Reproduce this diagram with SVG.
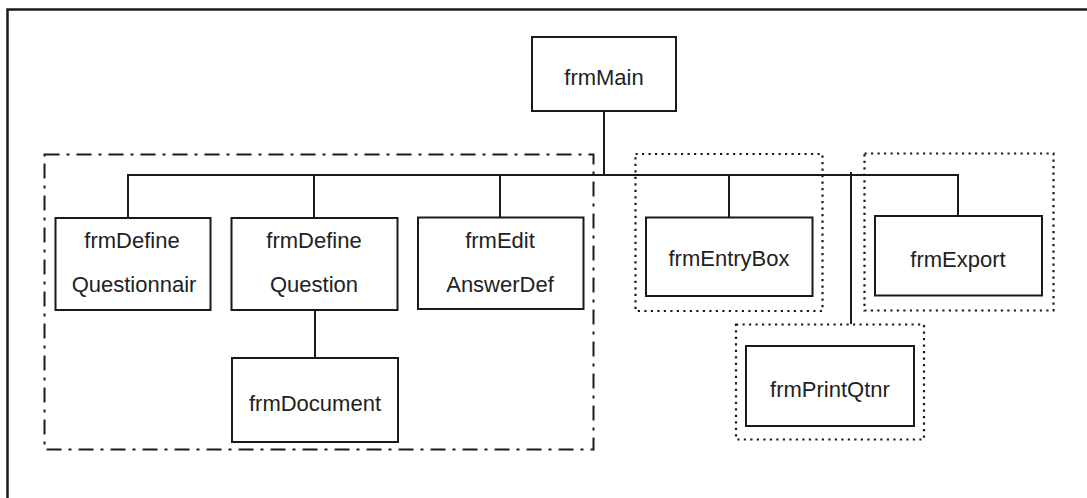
<svg xmlns="http://www.w3.org/2000/svg" width="1087" height="498" viewBox="0 0 1087 498">
<style>
.box{fill:#fff;stroke:#1a1a1a;stroke-width:2}
.lbl{font-family:"Liberation Sans",Arial,sans-serif;font-size:22px;fill:#222;text-anchor:middle}
.conn{fill:none;stroke:#1a1a1a;stroke-width:2}
.dashdot{fill:none;stroke:#1a1a1a;stroke-width:2;stroke-dasharray:15 7 3 7}
.dotted{fill:none;stroke:#1a1a1a;stroke-width:2.2;stroke-dasharray:2.2 4.3}
</style>
<rect width="1087" height="498" fill="#fff"/>
<path d="M7.5,498 V9.5 H1087" fill="none" stroke="#1a1a1a" stroke-width="2.5"/>
<g id="groups">
<rect class="dashdot" x="44.5" y="154.5" width="549" height="295"/>
<rect class="dotted" x="635.5" y="154" width="187" height="157"/>
<rect class="dotted" x="864.5" y="153.5" width="189" height="157"/>
<rect class="dotted" x="736" y="324.5" width="188" height="115"/>
</g>
<g id="connectors">
<path class="conn" d="M604,111 V175"/>
<path class="conn" d="M127,175 H959"/>
<path class="conn" d="M128,175 V218"/>
<path class="conn" d="M314,175 V218"/>
<path class="conn" d="M500,175 V217"/>
<path class="conn" d="M729,175 V217"/>
<path class="conn" d="M958,175 V216"/>
<path class="conn" d="M851,172 V324"/>
<path class="conn" d="M315,310 V358"/>
</g>
<g id="frmMain">
<rect class="box" x="532" y="37" width="144" height="74"/>
<text class="lbl" x="604" y="85">frmMain</text>
</g>
<g id="frmDefineQuestionnair">
<rect class="box" x="55.5" y="218" width="155" height="92"/>
<text class="lbl" x="132" y="248">frmDefine</text>
<text class="lbl" x="134" y="292">Questionnair</text>
</g>
<g id="frmDefineQuestion">
<rect class="box" x="231.5" y="218" width="166" height="92"/>
<text class="lbl" x="314" y="248">frmDefine</text>
<text class="lbl" x="314" y="292">Question</text>
</g>
<g id="frmEditAnswerDef">
<rect class="box" x="418" y="217.5" width="165.5" height="91.5"/>
<text class="lbl" x="500" y="248">frmEdit</text>
<text class="lbl" x="500" y="292">AnswerDef</text>
</g>
<g id="frmDocument">
<rect class="box" x="232" y="358" width="166" height="84"/>
<text class="lbl" x="315" y="411">frmDocument</text>
</g>
<g id="frmEntryBox">
<rect class="box" x="646" y="217.5" width="166.5" height="78.5"/>
<text class="lbl" x="729" y="266">frmEntryBox</text>
</g>
<g id="frmExport">
<rect class="box" x="875" y="216" width="167" height="79.5"/>
<text class="lbl" x="958" y="267">frmExport</text>
</g>
<g id="frmPrintQtnr">
<rect class="box" x="746" y="346" width="168" height="80"/>
<text class="lbl" x="830" y="397">frmPrintQtnr</text>
</g>
</svg>
